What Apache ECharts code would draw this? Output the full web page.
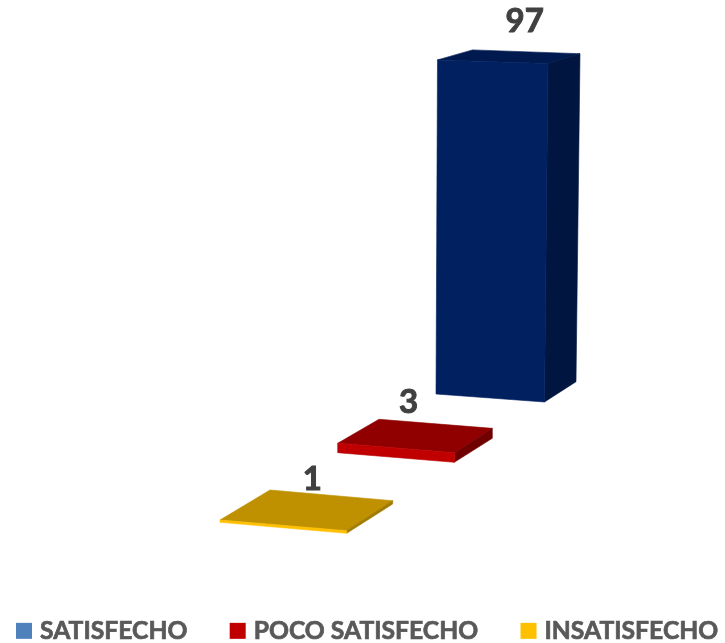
<!DOCTYPE html>
<html>
<head>
<meta charset="utf-8">
<style>html,body{margin:0;padding:0;background:#fff}#c{width:725px;height:643px}</style>
<script src="https://cdn.jsdelivr.net/npm/echarts@6/dist/echarts.min.js"></script>
</head>
<body>
<div id="c"></div>
<script>
const categories = ['SATISFECHO', 'POCO SATISFECHO', 'INSATISFECHO'];
const values = [97, 3, 1];
const legendColors = ['#4f81bd', '#c00000', '#ffc000'];

// Face shades per bar
const faces = [
  { front: '#002060', top: '#001a50', side: '#00153f' },
  { front: '#c00000', top: '#900000', side: '#700000' },
  { front: '#ffc000', top: '#bf9000', side: '#9f7a00' }
];
// Perspective pose of each bar on the tilted floor, as offsets from its axis anchor
const poses = [
  { bfl: [-55, -140], bfr: [53.5, -132], bbr: [85, -152.3], k: [0.986, 0.999, 0.968], lean: [0.0044, 0.0103, 0.0118], backL: [35, -10], label: [16, -35] },
  { bfl: [-49.3, -81.3], bfr: [67.3, -71.7], bbr: [105.3, -95.7], k: [0.9, 0.91, 0.95], lean: [0, 0.06, 0], backL: [41.3, -24], label: [-6.5, -33] },
  { bfl: [-63, -11.7], bfr: [63.7, -0.7], bbr: [109.7, -30], k: [0.66, 0.75, 0.95], lean: [0, 0, 0], backL: [50, -30], label: [6, -31] }
];

function renderBar(params, api) {
  const i = api.value(0);
  const base = api.coord([i, 0]);
  const h = base[1] - api.coord([i, api.value(1)])[1];
  const p = poses[i], f = faces[i];
  const at = (o) => [base[0] + o[0], base[1] + o[1]];
  const rise = (pt, j) => [pt[0] + p.lean[j] * h, pt[1] - p.k[j] * h];
  const bfl = at(p.bfl), bfr = at(p.bfr), bbr = at(p.bbr);
  const tfl = rise(bfl, 0), tfr = rise(bfr, 1), tbr = rise(bbr, 2);
  const tbl = [tfl[0] + p.backL[0], tfl[1] + p.backL[1]];
  const mid = [(tfl[0] + tbr[0]) / 2, (tfl[1] + tbr[1]) / 2];
  const face = (points, c) => ({ type: 'polygon', shape: { points }, style: { fill: c, stroke: c, lineWidth: 0.6 } });
  return {
    type: 'group',
    children: [
      face([tfl, tbl, tbr, tfr], f.top),
      face([tfr, tbr, bbr, bfr], f.side),
      face([tfl, tfr, bfr, bfl], f.front),
      { type: 'text', x: mid[0] + p.label[0], y: mid[1] + p.label[1],
        style: { text: String(api.value(1)), font: 'bold 33px Lato', fill: '#404040', stroke: '#404040', lineWidth: 1, align: 'center', verticalAlign: 'middle' } }
    ]
  };
}

const chart = echarts.init(document.getElementById('c'), null, { renderer: 'canvas' });
chart.setOption({
  animation: false,
  backgroundColor: '#fff',
  grid: { left: 231, right: 182, top: 10, bottom: 109 },
  xAxis: { type: 'category', data: categories, inverse: true, show: false },
  yAxis: { type: 'value', min: 0, max: 150, show: false },
  legend: {
    left: 16, top: 618, width: 709, padding: 0, itemWidth: 16, itemHeight: 16, itemGap: 42, icon: 'rect',
    selectedMode: false,
    textStyle: { color: '#595959', fontFamily: 'Lato', fontWeight: 'bold', fontSize: 24.7, padding: [0, 0, 0, 3],
      textBorderColor: '#595959', textBorderWidth: 0.7 },
    data: categories
  },
  series: categories.map((name, i) => ({
    name,
    type: 'custom',
    silent: true,
    itemStyle: { color: legendColors[i] },
    renderItem: renderBar,
    data: [[i, values[i]]]
  }))
});
</script>
</body>
</html>
